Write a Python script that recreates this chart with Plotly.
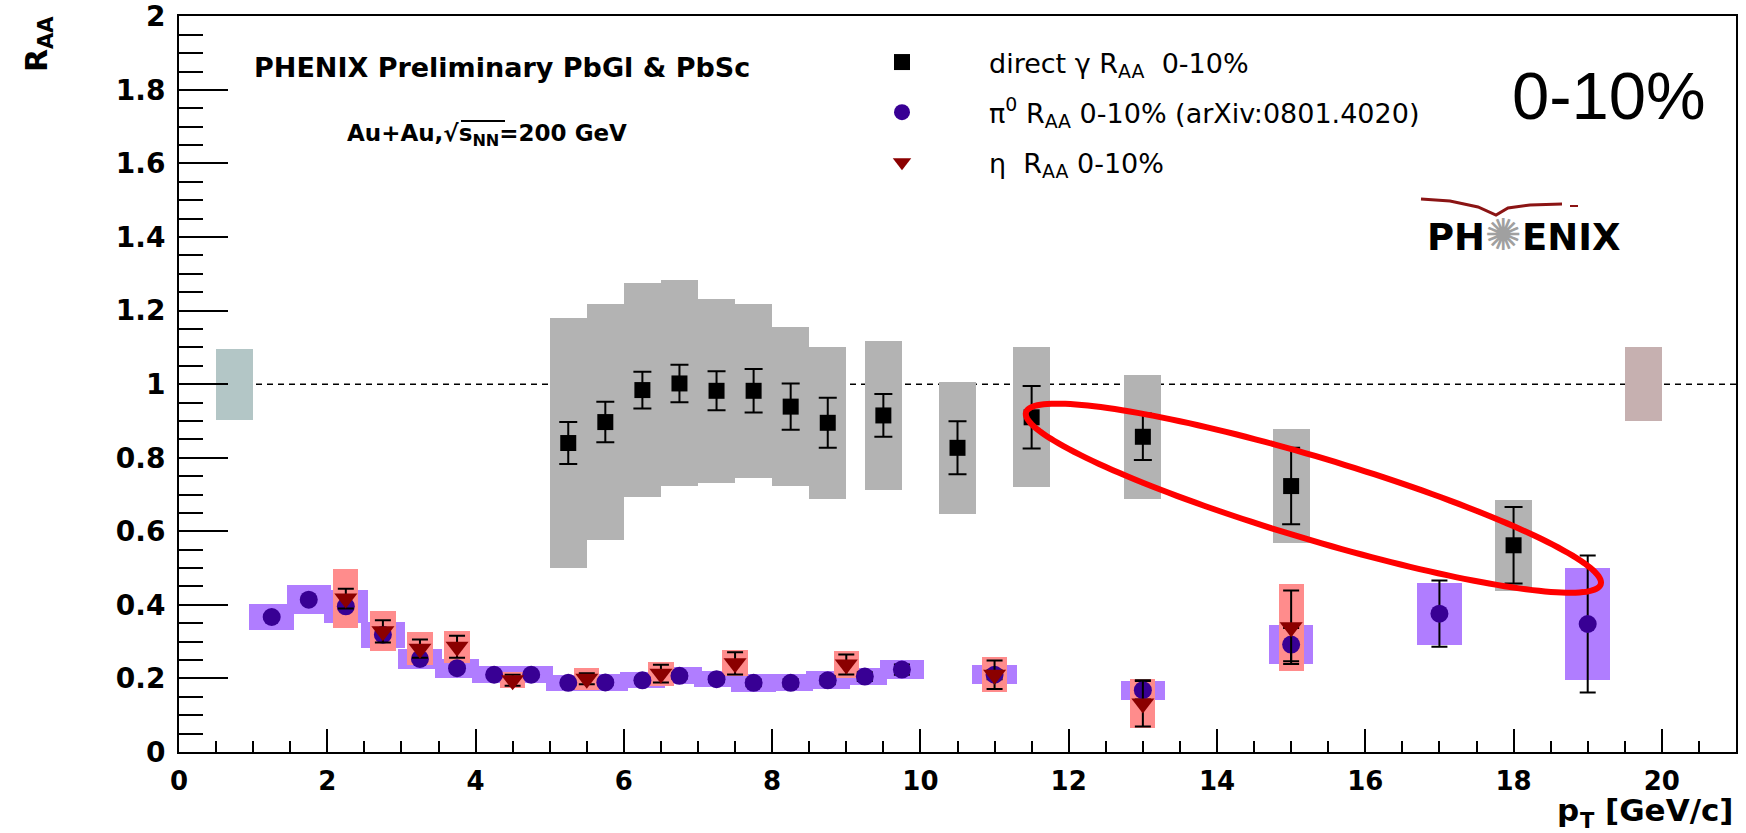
import numpy as np
import plotly.graph_objects as go

# ---------------- data ----------------
gamma_pt   = [5.25, 5.75, 6.25, 6.75, 7.25, 7.75, 8.25, 8.75, 9.5, 10.5, 11.5, 13.0, 15.0, 18.0]
gamma_raa  = [0.840, 0.897, 0.984, 1.002, 0.982, 0.982, 0.939, 0.895, 0.915, 0.827, 0.910, 0.857, 0.723, 0.562]
gamma_stat = [0.057, 0.055, 0.050, 0.051, 0.053, 0.059, 0.063, 0.068, 0.058, 0.072, 0.085, 0.063, 0.104, 0.104]
gamma_syst = [0.340, 0.321, 0.290, 0.280, 0.250, 0.237, 0.217, 0.207, 0.203, 0.180, 0.190, 0.169, 0.156, 0.123]

pi0_pt   = [1.25, 1.75, 2.25, 2.75, 3.25, 3.75, 4.25, 4.75, 5.25, 5.75, 6.25, 6.75,
            7.25, 7.75, 8.25, 8.75, 9.25, 9.75, 11.0, 13.0, 15.0, 17.0, 19.0]
pi0_raa  = [0.367, 0.414, 0.396, 0.319, 0.253, 0.228, 0.210, 0.210, 0.188, 0.189, 0.195, 0.207,
            0.198, 0.188, 0.188, 0.195, 0.205, 0.224, 0.210, 0.168, 0.292, 0.376, 0.348]
pi0_stat = [0.005, 0.005, 0.005, 0.005, 0.005, 0.005, 0.006, 0.006, 0.006, 0.007, 0.007, 0.008,
            0.008, 0.009, 0.010, 0.011, 0.012, 0.014, 0.012, 0.025, 0.045, 0.090, 0.186]
pi0_syst = [0.036, 0.040, 0.044, 0.035, 0.027, 0.026, 0.023, 0.023, 0.021, 0.023, 0.022, 0.023,
            0.022, 0.024, 0.023, 0.024, 0.024, 0.026, 0.026, 0.026, 0.052, 0.084, 0.152]

eta_pt   = [2.25, 2.75, 3.25, 3.75, 4.5, 5.5, 6.5, 7.5, 9.0, 11.0, 13.0, 15.0]
eta_raa  = [0.417, 0.328, 0.281, 0.286, 0.195, 0.199, 0.213, 0.241, 0.238, 0.210, 0.132, 0.339]
eta_stat = [0.027, 0.030, 0.025, 0.030, 0.015, 0.015, 0.024, 0.030, 0.027, 0.039, 0.063, 0.100]
eta_syst = [0.081, 0.054, 0.044, 0.043, 0.022, 0.030, 0.033, 0.035, 0.037, 0.048, 0.067, 0.119]

norm_pt  = [0.75, 19.75]
norm_val = [1.0, 1.0]
norm_err = [0.097, 0.100]

x_ticks = [0, 2, 4, 6, 8, 10, 12, 14, 16, 18, 20]
y_ticks = [0, 0.2, 0.4, 0.6, 0.8, 1.0, 1.2, 1.4, 1.6, 1.8, 2.0]
y_tick_text = ["0", "0.2", "0.4", "0.6", "0.8", "1", "1.2", "1.4", "1.6", "1.8", "2"]

# ---------------- layout geometry ----------------
W, H = 1746, 833
ML, MR, MT, MB = 179, 10, 16, 81
PW, PH = W - ML - MR, H - MT - MB


def pxx(px):
    return (px - ML) / PW


def pxy(py):
    return (H - MB - py) / PH


GAMMA_BOX_W, PI0_BOX_W, ETA_BOX_W, NORM_BOX_W = 0.5, 0.6, 0.34, 0.5
BOLD = "DejaVu Sans"


def box_trace(x, y, half, width, color):
    return go.Bar(
        x=x,
        y=[2 * h for h in half],
        base=[v - h for v, h in zip(y, half)],
        width=width,
        marker=dict(color=color, line=dict(width=0)),
        opacity=1,
        showlegend=False,
        hoverinfo="skip",
    )


fig = go.Figure()

# systematic / normalization boxes
fig.add_trace(box_trace(norm_pt[:1], norm_val[:1], norm_err[:1], NORM_BOX_W, "#b3c6c6"))
fig.add_trace(box_trace(norm_pt[1:], norm_val[1:], norm_err[1:], NORM_BOX_W, "#c6b0b0"))
fig.add_trace(box_trace(gamma_pt, gamma_raa, gamma_syst, GAMMA_BOX_W, "#b3b3b3"))
fig.add_trace(box_trace(pi0_pt, pi0_raa, pi0_syst, PI0_BOX_W, "#b07dff"))
fig.add_trace(box_trace(eta_pt, eta_raa, eta_syst, ETA_BOX_W, "#ff8c8c"))

# data points with statistical errors
fig.add_trace(go.Scatter(
    x=gamma_pt, y=gamma_raa, mode="markers",
    name="direct γ R<sub>AA</sub>  0-10%",
    marker=dict(symbol="square", size=16, color="black"),
    error_y=dict(type="data", array=gamma_stat, color="black", thickness=2, width=9),
    legendgroup="g1",
))
fig.add_trace(go.Scatter(
    x=pi0_pt, y=pi0_raa, mode="markers",
    name="π<sup>0</sup> R<sub>AA</sub> 0-10% (arXiv:0801.4020)",
    marker=dict(symbol="circle", size=18, color="#380094"),
    error_y=dict(type="data", array=pi0_stat, color="black", thickness=2, width=8),
    legendgroup="g2",
))
fig.add_trace(go.Scatter(
    x=eta_pt, y=eta_raa, mode="markers",
    name="η  R<sub>AA</sub> 0-10%",
    marker=dict(symbol="triangle-down", size=20, color="#8b0000"),
    error_y=dict(type="data", array=eta_stat, color="black", thickness=2, width=8),
    legendgroup="g3",
))

# red highlight ellipse (annotation drawn over the plot, defined in data units)
ell_c = (15.30, 0.690)
ell_major = (3.876, -0.2337)
ell_minor = (-0.1585, -0.1068)
t = np.linspace(0, 2 * np.pi, 181)
ex = ell_c[0] + ell_major[0] * np.cos(t) + ell_minor[0] * np.sin(t)
ey = ell_c[1] + ell_major[1] * np.cos(t) + ell_minor[1] * np.sin(t)
ell_path = "M " + " L ".join(f"{a:.4f},{b:.4f}" for a, b in zip(ex, ey)) + " Z"

# PHENIX logo swoosh (pixel positions of the decoration)
swoosh_px = [(1421, 199), (1450, 201), (1478, 207), (1496, 215), (1508, 208),
             (1530, 205), (1562, 204)]
swoosh_path = "M " + " L ".join(f"{pxx(a):.5f},{pxy(b):.5f}" for a, b in swoosh_px)

shapes = [
    dict(type="line", xref="x", yref="y", x0=0, x1=21, y0=1, y1=1,
         line=dict(color="black", width=1.5, dash="6px,5px"), layer="below"),
    dict(type="path", xref="x", yref="y", path=ell_path,
         line=dict(color="#ff0000", width=6), layer="above"),
    dict(type="path", xref="paper", yref="paper", path=swoosh_path,
         line=dict(color="#8b1414", width=3), layer="above"),
    dict(type="line", xref="paper", yref="paper", x0=pxx(1570), x1=pxx(1578),
         y0=pxy(206), y1=pxy(206), line=dict(color="#8b1414", width=2), layer="above"),
    # overline of the square root in the collision-energy label
    dict(type="line", xref="paper", yref="paper", x0=pxx(461), x1=pxx(505),
         y0=pxy(121), y1=pxy(121), line=dict(color="black", width=2), layer="above"),
]

annotations = [
    dict(text="<b>PHENIX Preliminary PbGl &amp; PbSc</b>", xref="paper", yref="paper",
         x=pxx(252), y=pxy(68), xanchor="left", yanchor="middle", showarrow=False,
         font=dict(family=BOLD, size=27, color="black")),
    dict(text="<b>Au+Au,√s<sub>NN</sub>=200 GeV</b>",
         xref="paper", yref="paper", x=pxx(345), y=pxy(135), xanchor="left", yanchor="middle",
         showarrow=False, font=dict(family=BOLD, size=23, color="black")),
    dict(text="0-10%", xref="paper", yref="paper", x=pxx(1609), y=pxy(95),
         xanchor="center", yanchor="middle", showarrow=False,
         font=dict(family="Liberation Sans", size=67, color="black")),
    dict(text="<b>PH<span style='color:#a0a0a0;font-size:44px'>✺</span>ENIX</b>",
         xref="paper", yref="paper",
         x=pxx(1524), y=pxy(234), xanchor="center", yanchor="middle", showarrow=False,
         font=dict(family=BOLD, size=37, color="black")),
    dict(text="<b>R<sub>AA</sub></b>", xref="paper", yref="paper", x=pxx(39), y=pxy(44),
         xanchor="center", yanchor="middle", showarrow=False, textangle=-90,
         font=dict(family=BOLD, size=30, color="black")),
    # x-axis title "p_T [GeV/c]", right-aligned at the end of the axis (ROOT style)
    dict(text="<b>[GeV/c]</b>", xref="paper", yref="paper", x=pxx(1736), y=pxy(810),
         xanchor="right", yanchor="middle", showarrow=False,
         font=dict(family=BOLD, size=31, color="black")),
    dict(text="<b>p</b>", xref="paper", yref="paper", x=pxx(1581), y=pxy(810),
         xanchor="right", yanchor="middle", showarrow=False,
         font=dict(family=BOLD, size=31, color="black")),
    dict(text="<b>T</b>", xref="paper", yref="paper", x=pxx(1578), y=pxy(821),
         xanchor="left", yanchor="middle", showarrow=False,
         font=dict(family=BOLD, size=21, color="black")),
]

axis_common = dict(
    showgrid=False, zeroline=False, showline=True, linewidth=2, linecolor="black",
    mirror=True, ticks="inside", tickwidth=2, tickcolor="black", automargin=False,
)

fig.update_layout(
    width=W, height=H,
    margin=dict(l=ML, r=MR, t=MT, b=MB, pad=0, autoexpand=False),
    paper_bgcolor="white", plot_bgcolor="white",
    barmode="overlay", bargap=0,
    showlegend=True,
    legend=dict(
        x=pxx(815), y=pxy(38), xanchor="left", yanchor="top",
        bgcolor="rgba(0,0,0,0)", borderwidth=0,
        font=dict(family="DejaVu Sans", size=27, color="black"),
        itemwidth=164, tracegroupgap=12, traceorder="grouped",
    ),
    xaxis=dict(
        range=[0, 21], tickmode="array", tickvals=x_ticks, ticktext=[str(v) for v in x_ticks],
        ticklen=23, ticklabelstandoff=5,
        minor=dict(dtick=0.5, tick0=0, ticklen=11, tickwidth=2, ticks="inside", tickcolor="black"),
        tickfont=dict(family=BOLD, size=26, color="black", weight="bold"),
        **axis_common,
    ),
    yaxis=dict(
        range=[0, 2.001], tickmode="array", tickvals=y_ticks, ticktext=y_tick_text,
        ticklen=49, ticklabelstandoff=6,
        minor=dict(dtick=0.05, tick0=0, ticklen=24, tickwidth=2, ticks="inside", tickcolor="black"),
        tickfont=dict(family=BOLD, size=28, color="black", weight="bold"),
        **axis_common,
    ),
    shapes=shapes,
    annotations=annotations,
)

fig.write_html("out.html")
